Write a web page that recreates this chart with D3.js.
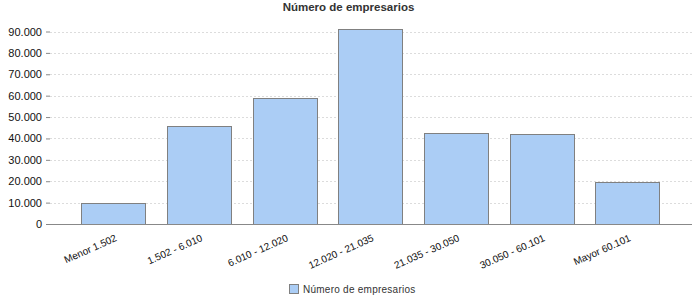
<!DOCTYPE html>
<html>
<head>
<meta charset="utf-8">
<script src="https://cdn.jsdelivr.net/npm/d3@7"></script>
<style>
  body { margin: 0; background: #fff; }
  svg { display: block; }
</style>
</head>
<body>
<svg id="chart" width="700" height="300"></svg>
<script>
const title = "Número de empresarios";
const categories = ["Menor 1.502", "1.502 - 6.010", "6.010 - 12.020", "12.020 - 21.035", "21.035 - 30.050", "30.050 - 60.101", "Mayor 60.101"];
const values = [9700, 45700, 59000, 91300, 42700, 42200, 19500];
const yTicks = [0, 10000, 20000, 30000, 40000, 50000, 60000, 70000, 80000, 90000];
const seriesName = "Número de empresarios";

const svg = d3.select("#chart");
const font = "'Liberation Sans', Arial, sans-serif";
const plotLeft = 50, plotRight = 692;

const x = d3.scaleBand().domain(categories).range([70.7, 670.3]).paddingInner(0.25).paddingOuter(0.125);
const y = d3.scaleLinear().domain([0, 90000]).range([224, 31.5]);

const fmt = v => d3.format(",")(v).replace(/,/g, ".");

// gridlines
svg.append("g").selectAll("line").data(yTicks.filter(d => d > 0)).join("line")
  .attr("x1", plotLeft).attr("x2", plotRight)
  .attr("y1", d => Math.round(y(d)) + 0.5).attr("y2", d => Math.round(y(d)) + 0.5)
  .attr("stroke", "#dcdcdc").attr("stroke-dasharray", "2,2");

// y axis
const yAxis = svg.append("g").attr("transform", `translate(${plotLeft},0)`)
  .call(d3.axisLeft(y).tickValues(yTicks).tickFormat(fmt).tickSize(4).tickPadding(4));
yAxis.select(".domain").remove();
yAxis.selectAll(".tick line").attr("stroke", "#888");
yAxis.selectAll("text").attr("font-family", font).attr("font-size", "11px").attr("fill", "#111");

// bars
svg.append("g").selectAll("rect").data(values).join("rect")
  .attr("x", (d, i) => Math.round(x(categories[i])) + 0.5)
  .attr("y", d => Math.round(y(d)) + 0.5)
  .attr("width", Math.round(x.bandwidth()))
  .attr("height", d => Math.round(y(0)) - Math.round(y(d)))
  .attr("fill", "#abcdf5").attr("stroke", "#808080").attr("stroke-width", 1);

// x axis line
svg.append("line").attr("x1", plotLeft - 4).attr("x2", plotRight)
  .attr("y1", Math.round(y(0)) + 0.5).attr("y2", Math.round(y(0)) + 0.5)
  .attr("stroke", "#888");

// x labels
svg.append("g").selectAll("text").data(categories).join("text")
  .attr("transform", d => `translate(${x(d) + x.bandwidth() / 2 + 1},${234}) rotate(-24)`)
  .attr("text-anchor", "end").attr("dy", "0.71em")
  .attr("font-family", font).attr("font-size", "10px").attr("fill", "#111")
  .text(d => d);

// title
svg.append("text").attr("x", 348.5).attr("y", 11)
  .attr("text-anchor", "middle").attr("font-family", font).attr("font-weight", "bold")
  .attr("font-size", "11.5px").attr("fill", "#333").text(title);

// legend
const lg = svg.append("g").attr("transform", "translate(289,284)");
lg.append("rect").attr("x", 0.5).attr("y", 0.5).attr("width", 9).attr("height", 9)
  .attr("fill", "#abcdf5").attr("stroke", "#808080");
lg.append("text").attr("x", 14).attr("y", 9).attr("font-family", font).attr("font-size", "10px")
  .attr("letter-spacing", "0.25px").attr("fill", "#333").text(seriesName);
</script>
</body>
</html>
